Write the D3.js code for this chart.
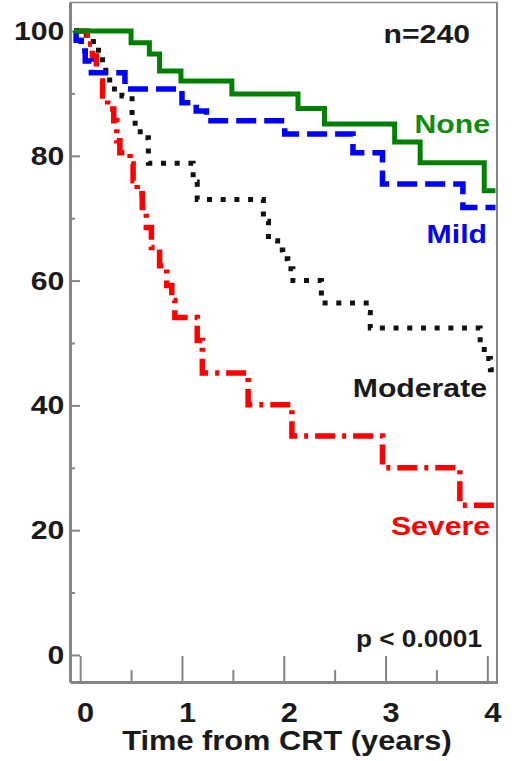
<!DOCTYPE html>
<html>
<head>
<meta charset="utf-8">
<script src="https://cdn.jsdelivr.net/npm/d3@7"></script>
<style>
  html, body { margin: 0; padding: 0; background: #fff; }
  svg { display: block; }
  text { font-family: "Liberation Sans", Arial, Helvetica, sans-serif; }
</style>
</head>
<body>
<svg id="chart" width="516" height="761"></svg>
<script>
// ---- data ----
const yMajorTicks = [0, 20, 40, 60, 80, 100];
const yMinorTicks = [10, 30, 50, 70, 90];
const xMajorTicks = [0, 1, 2, 3, 4];
const xMinorTicks = [0.5, 1.5, 2.5, 3.5];

const noneTime = [-0.06, 0.50, 0.68, 0.78, 0.99, 1.49, 2.14, 2.40, 3.09, 3.34, 3.97, 4.08];
const noneSurv = [100, 98.1, 96.3, 93.6, 92.0, 89.9, 87.6, 85.1, 82.2, 78.9, 74.4, 74.4];

const mildTime = [-0.06, -0.04, 0.01, 0.05, 0.11, 0.44, 1.00, 1.14, 1.24, 2.01, 2.68, 2.97, 3.76, 4.08];
const mildSurv = [100, 98.5, 96.8, 95.2, 93.3, 90.7, 88.5, 87.2, 85.6, 83.5, 80.5, 75.5, 71.7, 71.7];

const modTime = [-0.06, 0.06, 0.13, 0.18, 0.22, 0.29, 0.41, 0.51, 0.54, 0.59, 0.67, 1.11, 1.15,
                 1.80, 1.85, 1.94, 1.99, 2.04, 2.09, 2.37, 2.81, 2.85, 3.93, 3.97, 4.03, 4.08];
const modSurv = [100, 98.9, 97.8, 96.5, 93.7, 90.7, 89.6, 86.4, 84.5, 82.9, 78.8, 75.8, 73.0,
                 69.5, 66.4, 64.9, 63.5, 61.9, 60.0, 56.4, 54.9, 52.4, 49.5, 47.5, 45.7, 45.7];

const sevTime = [-0.06, 0.07, 0.12, 0.16, 0.19, 0.22, 0.27, 0.33, 0.36, 0.39, 0.49, 0.52, 0.56, 0.61,
                 0.65, 0.70, 0.78, 0.85, 0.90, 0.93, 1.15, 1.20, 1.65, 2.08, 2.97, 3.73, 4.08];
const sevSurv = [100, 97.9, 96.0, 94.1, 92.0, 89.6, 87.5, 85.6, 82.4, 80.5, 78.7, 76.0, 73.9, 71.7,
                 68.5, 65.3, 62.4, 59.2, 56.8, 54.1, 50.4, 45.2, 40.1, 35.1, 30.0, 24.0, 24.0];

const groupNames = ["None", "Mild", "Moderate", "Severe"];
const nLabel = "n=240";
const pLabel = "p < 0.0001";
const xTitle = "Time from CRT (years)";

// ---- layout ----
const sx = 1.14; // horizontal stretch of the text in the original figure
const svg = d3.select("#chart");
const x = d3.scaleLinear().domain([-0.1, 4.1]).range([70, 497.5]);
const y = d3.scaleLinear().domain([-4.33, 104.65]).range([682, 2]);
const frameColor = "#858585";

// frame
svg.append("line").attr("x1", x.range()[0]).attr("x2", x.range()[1]).attr("y1", y.range()[1] + 0.5).attr("y2", y.range()[1] + 0.5)
  .attr("stroke", frameColor).attr("stroke-width", 1.5);
svg.append("line").attr("x1", x.range()[1] - 0.5).attr("x2", x.range()[1] - 0.5).attr("y1", y.range()[1]).attr("y2", y.range()[0])
  .attr("stroke", frameColor).attr("stroke-width", 2);

// y axis
const yAxisG = svg.append("g").attr("transform", `translate(${x.range()[0]},0)`)
  .call(d3.axisLeft(y).tickValues(yMajorTicks).tickFormat(d3.format("d")).tickSizeInner(-10).tickSizeOuter(0).tickPadding(5));
const yMinorG = svg.append("g").attr("transform", `translate(${x.range()[0]},0)`)
  .call(d3.axisLeft(y).tickValues(yMinorTicks).tickSizeInner(-5).tickSizeOuter(0).tickFormat(""));
yMinorG.select(".domain").remove();

// x axis
const xAxisG = svg.append("g").attr("transform", `translate(0,${y.range()[0]})`)
  .call(d3.axisBottom(x).tickValues(xMajorTicks).tickFormat(d3.format("d")).tickSizeInner(-26).tickSizeOuter(0).tickPadding(21));
const xMinorG = svg.append("g").attr("transform", `translate(0,${y.range()[0]})`)
  .call(d3.axisBottom(x).tickValues(xMinorTicks).tickSizeInner(-12).tickSizeOuter(0).tickFormat(""));
xMinorG.select(".domain").remove();

[yAxisG, yMinorG, xAxisG, xMinorG].forEach(g => {
  g.selectAll("line").attr("stroke", frameColor).attr("stroke-width", 2);
  g.selectAll(".domain").attr("stroke", frameColor).attr("stroke-width", 3);
});
yAxisG.selectAll("text")
  .attr("font-size", 26.5).attr("font-weight", "bold").attr("fill", "#1a1a1a")
  .attr("transform", `scale(${sx},1)`);
xAxisG.selectAll("text")
  .attr("font-size", 27).attr("font-weight", "bold").attr("fill", "#1a1a1a")
  .attr("x", 5 / sx)
  .attr("transform", `scale(${sx},1)`);

// text helper (stretched)
function addText(px, py, str, opts) {
  const g = svg.append("g").attr("transform", `translate(${px},${py}) scale(${sx},1)`);
  g.append("text")
    .attr("text-anchor", opts.anchor || "end")
    .attr("font-size", opts.size || 26.5)
    .attr("font-weight", opts.weight || "bold")
    .attr("fill", opts.fill || "#1a1a1a")
    .text(str);
}

// curves
const line = d3.line().x(d => x(d[0])).y(d => y(d[1])).curve(d3.curveStepAfter);
const series = [
  { t: noneTime, s: noneSurv, color: "#008000", width: 5, dash: null },
  { t: mildTime, s: mildSurv, color: "#0000ff", width: 5.5, dash: "20 8" },
  { t: modTime, s: modSurv, color: "#111111", width: 5, dash: "5 8.7" },
  { t: sevTime, s: sevSurv, color: "#ff0000", width: 5.5, dash: "20 7 4 7" }
];
[series[2], series[3], series[1], series[0]].forEach(sr => {
  const pts = sr.t.map((t, i) => [t, sr.s[i]]);
  svg.append("path")
    .attr("d", line(pts))
    .attr("fill", "none")
    .attr("stroke", sr.color)
    .attr("stroke-width", sr.width)
    .attr("stroke-dasharray", sr.dash)
    .attr("stroke-linejoin", "miter");
});

// labels
addText(470, 43, nLabel, {});
addText(490, 133, groupNames[0], { fill: "#108c10" });
addText(487, 243, groupNames[1], { fill: "#0000ff" });
addText(487, 397, groupNames[2], {});
addText(490, 535, groupNames[3], { fill: "#ff0000" });
addText(482, 647, pLabel, { size: 23 });
addText(287, 750, xTitle, { anchor: "middle", size: 27 });
</script>
</body>
</html>
